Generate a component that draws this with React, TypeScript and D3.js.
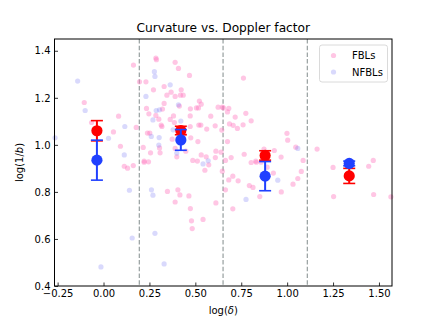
import React, { useEffect, useRef } from 'react';
import * as d3 from 'd3';

// scatter: FBLs (pink)
const fblX = [
  0.163, -0.105, 0.082, 0.054, 0.092, 0.178, 0.196, -0.065, 0.113, 0.131, 0.162,
  0.285, 0.288, 0.39, 0.408, 0.468, 0.231, 0.33, 0.272, 0.368, 0.423, 0.345, 0.39, 0.419, 0.434,
  0.522, 0.532, 0.33, 0.413, 0.234, 0.321, 0.473, 0.506, 0.517, 0.624, 0.647, 0.247, 0.285, 0.381,
  0.472, 0.584, 0.301, 0.363, 0.386, 0.314, 0.318, 0.519, 0.53, 0.472, 0.608, 0.562, 0.644, 0.239,
  0.252, 0.374, 0.475, 0.514, 0.216, 0.305, 0.39, 0.448, 0.256, 0.612, 0.532, 0.559, 0.221, 0.486,
  0.245, 0.511, 0.399, 0.308, 0.609, 0.64, 0.221, 0.348, 0.405, 0.416, 0.39, 0.465, 0.473, 0.479,
  0.483, 0.542, 0.612, 0.573, 0.552, 0.647, 0.44,
  0.762, 0.653, 0.682, 0.675, 0.775, 0.717, 0.804, 0.686, 0.706, 0.76, 0.729, 0.999, 1.003, 0.675,
  1.047, 0.766, 0.93, 0.874, 0.967, 0.695, 1.087, 0.829, 0.804, 0.664, 0.832, 0.858, 0.891, 0.704,
  0.682, 0.733, 0.925, 1.077, 1.058, 1.032, 0.794, 0.814, 0.664, 0.968, 0.851, 0.704,
  1.163, 1.469, 1.25, 1.444, 1.471, 1.253, 1.565,
];
const fblY = [
  1.339, 1.18, 1.122, 1.055, 0.994, 1.074, 1.268, 1.095, 0.909, 0.901, 0.912,
  1.369, 1.362, 1.351, 1.325, 1.295, 1.268, 1.248, 1.234, 1.224, 1.234, 1.211, 1.206, 1.211, 1.211,
  1.186, 1.173, 1.176, 1.165, 1.155, 1.152, 1.153, 1.157, 1.157, 1.16, 1.16, 1.132, 1.125, 1.123,
  1.123, 1.122, 1.109, 1.108, 1.095, 1.084, 1.078, 1.084, 1.084, 1.078, 1.081, 1.067, 1.063, 1.05,
  1.05, 1.024, 1.03, 1.014, 0.989, 0.987, 0.985, 0.973, 0.966, 0.973, 0.957, 0.949, 0.931, 0.934,
  0.928, 0.931, 0.949, 0.966, 0.946, 0.969, 0.926, 0.802, 0.809, 0.787, 0.757, 0.783, 0.729, 0.677,
  0.644, 0.683, 0.753, 0.915, 0.892, 0.888, 1.045,
  1.284, 1.157, 1.155, 1.14, 1.134, 1.118, 1.102, 1.089, 1.083, 1.085, 1.07, 1.049, 1.02, 1.014,
  0.99, 0.96, 0.976, 0.982, 0.948, 0.946, 0.934, 0.931, 0.925, 0.934, 0.926, 0.926, 0.905, 0.867,
  0.851, 0.847, 0.88, 0.887, 0.857, 0.833, 0.827, 0.819, 0.809, 0.8, 0.78, 0.728,
  0.982, 0.934, 0.904, 0.909, 0.789, 0.78, 0.779,
];

// scatter: NFBLs (lavender)
const nfblX = [
  -0.141, -0.1, 0.116, 0.027, -0.264, 0.113, 0.277, 0.28, 0.363, 0.231, 0.408, 0.305, 0.287, 0.269,
  0.421, 0.379, 0.26, 0.303, 0.301, 0.57, 0.542, 1.058, 0.949, 0.776, 0.141, 0.156, -0.014, 0.261,
  0.269, 0.28, 0.33, 0.399,
];
const nfblY = [
  1.271, 1.146, 1.078, 1.028, 1.03, 0.957, 1.311, 1.291, 1.255, 1.206, 1.17, 1.149, 1.146, 1.106,
  1.101, 1.064, 1.036, 1.031, 0.999, 0.932, 0.919, 0.985, 0.85, 0.768, 0.807, 0.604, 0.481, 0.809,
  0.786, 0.624, 0.494, 0.965,
];

// binned means
const binX = [-0.036, 0.421, 0.88, 1.338];
const fblMean = [1.06, 1.061, 0.955, 0.868];
const fblErr = [0.043, 0.018, 0.02, 0.032];
const nfblMean = [0.935, 1.021, 0.867, 0.921];
const nfblErr = [0.085, 0.044, 0.062, 0.01];

const binEdges = [0.195, 0.651, 1.11];
const xTicks = [-0.25, 0, 0.25, 0.5, 0.75, 1.0, 1.25, 1.5];
const yTicks = [0.4, 0.6, 0.8, 1.0, 1.2, 1.4];

const W = 436;
const H = 327;
const left = 54.5;
const right = 392;
const top = 39;
const bottom = 286;
const FONT = 'DejaVu Sans, sans-serif';
const PINK = 'rgb(255,120,190)';
const LAV = 'rgb(120,120,245)';

const App = () => {
  const svgRef = useRef<SVGSVGElement>(null);

  useEffect(() => {
    const svg = d3.select(svgRef.current);
    svg.selectAll('*').remove();

    const x = d3.scaleLinear().domain([-0.267, 1.571]).range([left, right]);
    const y = d3.scaleLinear().domain([0.4, 1.45]).range([bottom, top]);

    svg.append('rect').attr('width', W).attr('height', H).attr('fill', '#fff');

    // bin edges
    svg
      .selectAll('line.edge')
      .data(binEdges)
      .enter()
      .append('line')
      .attr('x1', d => x(d))
      .attr('x2', d => x(d))
      .attr('y1', top)
      .attr('y2', bottom)
      .attr('stroke', '#9ea6a6')
      .attr('stroke-width', 1.3)
      .attr('stroke-dasharray', '4.5,2.2');

    // scatter
    const fbl = fblX.map((v, i) => ({ x: v, y: fblY[i] }));
    const nfbl = nfblX.map((v, i) => ({ x: v, y: nfblY[i] }));
    svg
      .append('g')
      .selectAll('circle')
      .data(fbl)
      .enter()
      .append('circle')
      .attr('cx', d => x(d.x))
      .attr('cy', d => y(d.y))
      .attr('r', 2.6)
      .attr('fill', PINK)
      .attr('fill-opacity', 0.42);
    svg
      .append('g')
      .selectAll('circle')
      .data(nfbl)
      .enter()
      .append('circle')
      .attr('cx', d => x(d.x))
      .attr('cy', d => y(d.y))
      .attr('r', 2.6)
      .attr('fill', LAV)
      .attr('fill-opacity', 0.28);

    // error bars
    const drawErr = (means: number[], errs: number[], color: string) => {
      const g = svg.append('g');
      binX.forEach((bx, i) => {
        const cx = x(bx);
        const y0 = y(means[i] - errs[i]);
        const y1 = y(means[i] + errs[i]);
        g.append('line').attr('x1', cx).attr('x2', cx).attr('y1', y0).attr('y2', y1)
          .attr('stroke', color).attr('stroke-width', 2);
        [y0, y1].forEach(cy => {
          g.append('line').attr('x1', cx - 6).attr('x2', cx + 6).attr('y1', cy).attr('y2', cy)
            .attr('stroke', color).attr('stroke-width', 1.6);
        });
        g.append('circle').attr('cx', cx).attr('cy', y(means[i])).attr('r', 5.6).attr('fill', color);
      });
    };
    drawErr(fblMean, fblErr, '#ff0000');
    drawErr(nfblMean, nfblErr, '#2040ff');

    // axes (ticks pointing in)
    const xAxis = d3.axisBottom(x).tickValues(xTicks).tickFormat(d3.format('.2f')).tickSize(-3.5).tickPadding(4);
    const gx = svg.append('g').attr('transform', `translate(0,${bottom})`).call(xAxis);
    const yAxis = d3.axisLeft(y).tickValues(yTicks).tickFormat(d3.format('.1f')).tickSize(-3.5).tickPadding(4);
    const gy = svg.append('g').attr('transform', `translate(${left},0)`).call(yAxis);
    [gx, gy].forEach(g => {
      g.select('.domain').remove();
      g.selectAll('line').attr('stroke', '#000').attr('stroke-width', 0.8);
      g.selectAll('text').attr('font-family', FONT).attr('font-size', 10).attr('fill', '#000');
    });

    // frame
    svg.append('rect').attr('x', left).attr('y', top).attr('width', right - left).attr('height', bottom - top)
      .attr('fill', 'none').attr('stroke', '#000').attr('stroke-width', 1);

    // title and labels
    svg.append('text').attr('x', (left + right) / 2).attr('y', 31.5).attr('text-anchor', 'middle')
      .attr('font-family', FONT).attr('font-size', 12.2).text('Curvature vs. Doppler factor');

    const xl = svg.append('text').attr('x', (left + right) / 2).attr('y', 314).attr('text-anchor', 'middle')
      .attr('font-family', FONT).attr('font-size', 10);
    xl.append('tspan').text('log(');
    xl.append('tspan').attr('font-style', 'italic').text('δ');
    xl.append('tspan').text(')');

    const yl = svg.append('text').attr('transform', `translate(23,${(top + bottom) / 2}) rotate(-90)`)
      .attr('text-anchor', 'middle').attr('font-family', FONT).attr('font-size', 10);
    yl.append('tspan').text('log(1/');
    yl.append('tspan').attr('font-style', 'italic').text('b');
    yl.append('tspan').text(')');

    // legend
    const lg = svg.append('g');
    lg.append('rect').attr('x', 319.5).attr('y', 45).attr('width', 68).attr('height', 37).attr('rx', 2.5)
      .attr('fill', '#fff').attr('fill-opacity', 0.8).attr('stroke', '#d0d0d0').attr('stroke-width', 0.8);
    const items = [
      { label: 'FBLs', color: PINK, op: 0.42 },
      { label: 'NFBLs', color: LAV, op: 0.28 },
    ];
    items.forEach((it, i) => {
      const cy = 55.5 + i * 16.5;
      lg.append('circle').attr('cx', 333.5).attr('cy', cy).attr('r', 2.6).attr('fill', it.color).attr('fill-opacity', it.op);
      lg.append('text').attr('x', 352).attr('y', cy + 3.7).attr('font-family', FONT).attr('font-size', 10).text(it.label);
    });
  }, []);

  return (
    <svg
      ref={svgRef}
      width={W}
      height={H}
      style={{ position: 'absolute', left: 0, top: 0, display: 'block' }}
    />
  );
};

export default App;
